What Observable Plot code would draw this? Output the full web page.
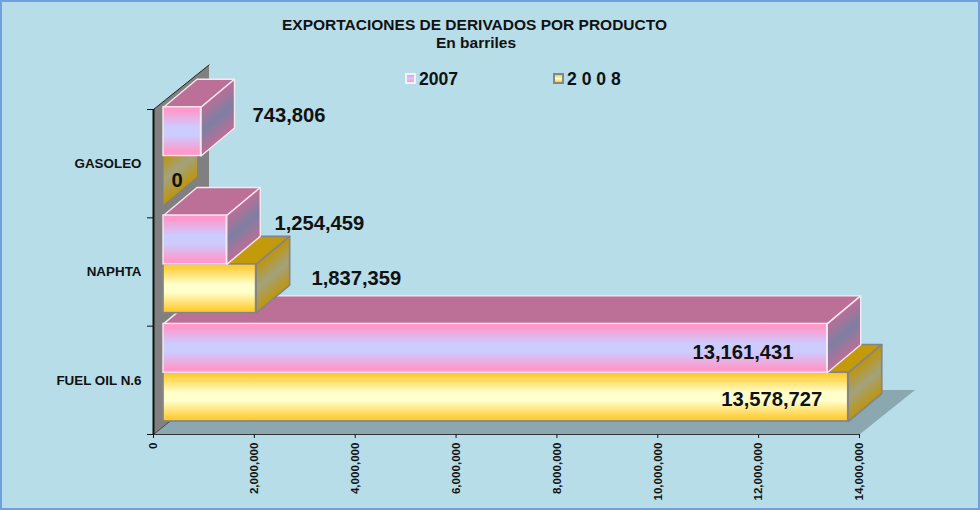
<!DOCTYPE html>
<html lang="es">
<head>
<meta charset="utf-8">
<script src="https://cdn.jsdelivr.net/npm/d3@7"></script>
<script src="https://cdn.jsdelivr.net/npm/@observablehq/plot@0.6"></script>
<style>
  html, body { margin: 0; padding: 0; background: #B7DDE8; }
  #chart { position: relative; width: 980px; height: 510px; overflow: hidden; font-family: "Liberation Sans", Arial, sans-serif; color: #111; font-weight: bold; }
  #chart svg { position: absolute; left: 0; top: 0; outline: 2px solid #6F9FDC; outline-offset: -2px; }
  .t { position: absolute; white-space: nowrap; line-height: 1; }
  .sw { position: absolute; box-sizing: border-box; width: 11px; height: 11px; }
</style>
</head>
<body>
<div id="chart">
</div>
<script>
// ---- data ----
const categories = ["FUEL OIL N.6", "NAPHTA", "GASOLEO"];
const series2007 = [13161431, 1254459, 743806];
const series2008 = [13578727, 1837359, 0];
const xTicks = [0, 2000000, 4000000, 6000000, 8000000, 10000000, 12000000, 14000000];
const titleText = "EXPORTACIONES DE DERIVADOS POR PRODUCTO";
const subtitleText = "En barriles";
const seriesNames = ["2007", "2 0 0 8"];

// ---- geometry ----
const W = 980, H = 510;
const mL = 153, mR = 121, mT = 109, mB = 76;
const xPerPx = 14e6 / (W - mL - mR);
const yPerPx = 3 / (H - mT - mB);
const barH = 48.8 * yPerPx;               // bar thickness along y
const depthX = 33.5 * xPerPx, depthY = 28 * yPerPx;     // bar depth
const wallX = 55.5 * xPerPx, wallY = 44.5 * yPerPx;     // wall/floor depth
const shift = { dx: 10, dy: -13 };        // bars stand off the wall

const styles = {
  y2007: { front: "url(#pinkFront)", side: "url(#pinkSide)", top: "#BC7098", stroke: "#F6E8F1", width: 1.4 },
  y2008: { front: "url(#goldFront)", side: "url(#goldSide)", top: "#C29A0A", stroke: "#858585", width: 1.7 }
};

const poly = (pts, o) => Plot.line(pts, { x: "x", y: "y", curve: "linear-closed", ...o });
const P = (x, y) => ({ x, y });

function gradients() {
  const svgNS = d3.create("svg:defs");
  const add = (id, v, stops) => {
    const g = svgNS.append("linearGradient").attr("id", id)
      .attr("x1", v[0]).attr("y1", v[1]).attr("x2", v[2]).attr("y2", v[3]);
    stops.forEach(([o, c]) => g.append("stop").attr("offset", o).attr("stop-color", c));
  };
  const vert = [0, 0, 0, 1], skew = [0.4, 0.22, 0.6, 0.78];
  add("pinkFront", vert, [[0.08, "#FF99CC"], [0.42, "#CCCCFF"], [0.58, "#CCCCFF"], [0.92, "#FF99CC"]]);
  add("goldFront", vert, [[0.05, "#FFCC33"], [0.42, "#FFFFCC"], [0.58, "#FFFFCC"], [0.95, "#FFCC33"]]);
  add("pinkSide", skew, [[0, "#BC6E96"], [0.5, "#7D7FA3"], [1, "#BC6E96"]]);
  add("goldSide", skew, [[0, "#BE950C"], [0.5, "#A2A27E"], [1, "#BE950C"]]);
  return svgNS.node();
}

function bar(value, i, s, st) {
  // s: 0 = lower bar of the pair, 1 = upper bar
  const y0 = i + s * barH, y1 = y0 + barH;
  const o = { ...shift, stroke: st.stroke, strokeWidth: st.width };
  const marks = [];
  marks.push(poly([P(0, y1), P(value, y1), P(value + depthX, y1 + depthY), P(depthX, y1 + depthY)], { ...o, fill: st.top }));
  marks.push(poly([P(value, y0), P(value + depthX, y0 + depthY), P(value + depthX, y1 + depthY), P(value, y1)],
    value > 0 ? { ...o, fill: st.side } : { ...shift, fill: st.side }));
  if (value > 0) marks.push(Plot.rect([{ x1: 0, x2: value, y1: y0, y2: y1 }], { x1: "x1", x2: "x2", y1: "y1", y2: "y2", ...o, fill: st.front }));
  return marks;
}

// back-to-front painting: bottom category first, 2008 before 2007
const barMarks = categories.flatMap((_, i) => [
  ...bar(series2008[i], i, 0, styles.y2008),
  ...bar(series2007[i], i, 1, styles.y2007)
]);

// value labels, each offset in pixels from the centre of its bar's zero-shift position
const labelRows = [
  { v: series2007[0], y: 0 + 1.5 * barH, dx: -23.7, dy: -9, a: "end" },
  { v: series2008[0], y: 0 + 0.5 * barH, dx: -16, dy: -11, a: "end" },
  { v: series2007[1], y: 1 + 1.5 * barH, dx: 57.7, dy: -29.5, a: "start" },
  { v: series2008[1], y: 1 + 0.5 * barH, dx: 65.3, dy: -23, a: "start" },
  { v: series2007[2], y: 2 + 1.5 * barH, dx: 61.5, dy: -29, a: "start" },
  { v: series2008[2], y: 2 + 0.5 * barH, dx: 18, dy: -13, a: "start" }
];
const labelMarks = labelRows.map(r => Plot.text([r], {
  x: "v", y: "y", text: d => d3.format(",")(d.v),
  dx: r.dx, dy: r.dy,
  textAnchor: r.a, lineAnchor: "middle",
  fontSize: 20.2, fontWeight: "bold", fill: "#111"
}));

const chart = Plot.plot({
  width: W, height: H,
  marginLeft: mL, marginRight: mR, marginTop: mT, marginBottom: mB,
  style: { background: "#B7DDE8", fontFamily: '"Liberation Sans", Arial, sans-serif', overflow: "visible" },
  x: { domain: [0, 14e6] },
  y: { domain: [0, 3] },
  marks: [
    gradients,
    // floor and wall
    poly([P(0, 0), P(14e6, 0), P(14e6 + wallX, wallY), P(wallX, wallY)], { fill: "#8BA8B0" }),
    poly([P(0, 0), P(wallX, wallY), P(wallX, 3 + wallY), P(0, 3)], { fill: "#808080" }),
    Plot.line([P(0, 3), P(wallX, 3 + wallY)], { x: "x", y: "y", stroke: "#222", strokeWidth: 1 }),
    Plot.line([P(0, 0), P(wallX, wallY)], { x: "x", y: "y", stroke: "#333", strokeWidth: 0.8 }),
    Plot.ruleX([0], { stroke: "#111", strokeWidth: 2 }),
    Plot.ruleY([0], { stroke: "#333", strokeWidth: 1.2 }),
    ...barMarks,
    Plot.axisX({
      ticks: xTicks, tickFormat: d3.format(","), tickRotate: -90, tickSize: 4, tickPadding: 4,
      label: null, fontSize: 11.6, fontWeight: "bold", fill: "#111", stroke: "#111"
    }),
    Plot.axisY({ ticks: [0, 1, 2, 3], tickFormat: () => "", tickSize: 6, label: null, stroke: "#111" }),
    Plot.axisY({
      ticks: categories.map((_, i) => i + 0.5), tickFormat: d => categories[Math.floor(d)],
      tickSize: 0, tickPadding: 12, label: null, fontSize: 13.4, fontWeight: "bold", fill: "#111"
    }),
    ...labelMarks
  ]
});

const root = document.getElementById("chart");
root.appendChild(chart);

function addText(txt, cx, top, size, anchorLeft) {
  const d = document.createElement("div");
  d.className = "t";
  d.textContent = txt;
  d.style.fontSize = size + "px";
  d.style.top = top + "px";
  d.style.left = cx + "px";
  if (!anchorLeft) d.style.transform = "translateX(-50%)";
  root.appendChild(d);
}
function addSwatch(left, top, bg, border) {
  const d = document.createElement("div");
  d.className = "sw";
  d.style.left = left + "px"; d.style.top = top + "px";
  d.style.background = bg; d.style.border = "2px solid " + border;
  root.appendChild(d);
}
addText(titleText, 474.5, 17, 15.5, false);
addText(subtitleText, 476, 35, 15.5, false);
addSwatch(405, 73, "linear-gradient(#FF99CC,#CCCCFF,#FF99CC)", "#F6F0F6");
addText(seriesNames[0], 419, 70.5, 17.6, true);
addSwatch(553, 73, "linear-gradient(#FFCC33,#FFFFCC,#FFCC33)", "#858585");
addText(seriesNames[1], 567, 70.5, 17.6, true);
</script>
</body>
</html>
